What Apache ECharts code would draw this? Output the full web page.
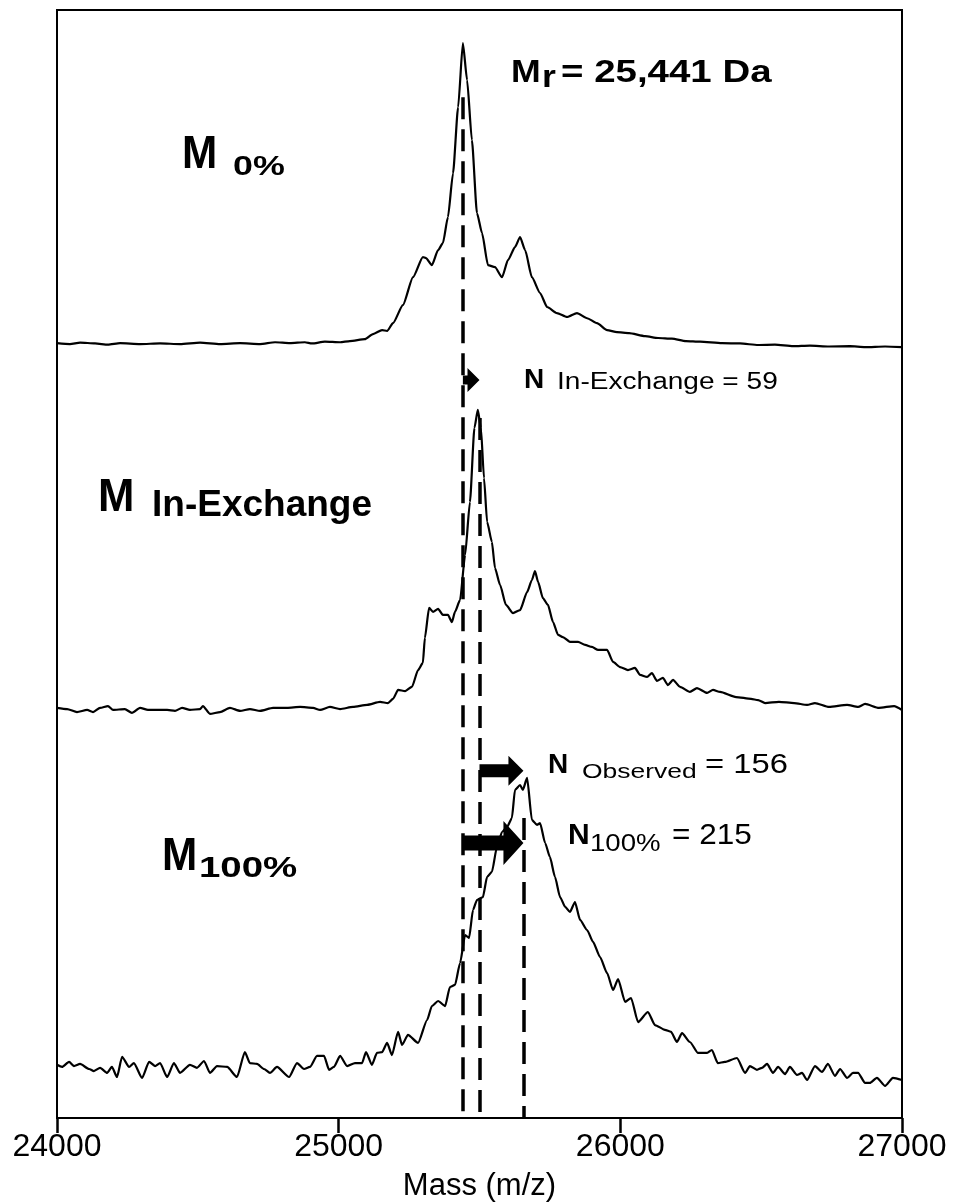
<!DOCTYPE html>
<html>
<head>
<meta charset="utf-8">
<script src="https://cdn.jsdelivr.net/npm/echarts@6/dist/echarts.min.js"></script>
<style>
  html, body { margin: 0; padding: 0; background: #fff; }
  #chart { width: 957px; height: 1203px; }
</style>
</head>
<body>
<div id="chart"></div>
<script>
// Mass axis ticks (Da)
const massTicks = [24000, 25000, 26000, 27000];

// Deconvoluted spectra: [mass (Da), relative intensity (%)]
const spectrumM0 = [
  [24000,1.3],[24046,1.0],[24082,1.5],[24135,1.2],[24181,0.8],[24224,1.3],[24295,1.0],[24366,1.2],
  [24437,1.0],[24508,1.5],[24579,1.0],[24650,1.3],[24721,1.0],[24774,1.6],[24827,1.3],[24880,1.6],
  [24905,1.2],[24951,1.8],[25005,1.6],[25040,2.0],[25093,2.6],[25122,4.3],[25154,5.6],[25172,5.3],
  [25193,7.9],[25228,13.8],[25264,23.0],[25299,29.6],[25310,29.3],[25331,27.0],[25353,31.9],[25370,34.2],
  [25388,42.8],[25406,57.2],[25424,78.9],[25441,100],[25456,87.8],[25473,68.1],[25491,44.1],[25509,37.5],
  [25530,27.0],[25555,26.3],[25580,23.0],[25601,28.6],[25626,32.9],[25644,36.2],[25662,31.9],[25686,23.0],
  [25715,17.8],[25740,13.2],[25775,11.2],[25811,9.9],[25846,11.2],[25882,9.5],[25917,7.9],[25953,5.6],
  [25988,4.9],[26031,4.6],[26088,3.6],[26134,3.0],[26183,2.8],[26233,2.0],[26283,1.8],[26361,1.3],
  [26425,1.2],[26489,0.7],[26549,0.8],[26613,0.3],[26673,0.5],[26741,0.2],[26815,0.3],[26869,0],
  [26940,0.2],[27000,0]
];

const spectrumInExchange = [
  [24000,0.7],[24036,0.3],[24071,-0.7],[24107,0],[24128,-0.7],[24153,0.7],[24181,1.3],[24199,0],
  [24241,0.3],[24266,-1.0],[24295,0.7],[24323,0],[24391,0],[24419,-0.3],[24444,0.7],[24472,0],
  [24508,0.3],[24518,1.3],[24543,-1.3],[24579,-0.7],[24614,0.7],[24650,-0.3],[24685,0.3],[24721,-0.3],
  [24767,0.7],[24817,0.7],[24863,1.0],[24909,0.7],[24934,0],[24969,1.0],[25005,0.3],[25051,1.0],
  [25101,1.7],[25147,2.7],[25175,2.3],[25193,3.7],[25211,6.7],[25236,6.3],[25260,7.7],[25282,13.3],
  [25299,15.7],[25306,24.0],[25321,34.0],[25335,32.7],[25353,33.7],[25370,31.7],[25388,31.7],[25402,29.3],
  [25413,32.7],[25431,36.7],[25449,51.7],[25466,69.3],[25482,94.0],[25494,100],[25505,94.0],[25516,77.3],
  [25527,62.7],[25544,56.0],[25555,47.3],[25573,41.7],[25594,35.0],[25619,32.3],[25644,33.3],[25669,39.3],
  [25686,43.3],[25697,46.3],[25708,42.7],[25725,37.3],[25743,35.0],[25761,29.3],[25779,25.0],[25796,24.3],
  [25821,22.7],[25850,22.7],[25875,21.7],[25899,21.0],[25921,20.0],[25953,20.0],[25974,16.0],[25999,14.3],
  [26027,13.3],[26052,14.0],[26070,11.7],[26095,11.0],[26112,12.3],[26130,9.7],[26151,10.7],[26169,8.3],
  [26187,10.0],[26212,7.7],[26247,6.0],[26272,7.3],[26308,5.7],[26329,6.7],[26354,6.0],[26411,4.3],
  [26464,3.7],[26489,3.3],[26514,2.3],[26563,2.7],[26617,2.3],[26663,1.7],[26691,2.3],[26741,1.0],
  [26805,1.7],[26844,1.0],[26869,2.0],[26918,0.7],[26972,1.3],[27000,0]
];

const spectrumM100 = [
  [24000,3.4],[24018,2.7],[24043,4.4],[24060,3.0],[24082,3.7],[24114,2.0],[24131,1.3],[24153,2.4],
  [24178,0.7],[24195,2.7],[24213,-0.7],[24231,6.1],[24256,2.7],[24273,4.0],[24302,-1.0],[24327,4.4],
  [24348,3.0],[24366,4.0],[24391,-0.7],[24415,4.0],[24437,0.7],[24472,3.4],[24497,2.4],[24522,4.7],
  [24543,0.7],[24568,3.0],[24604,2.7],[24639,-0.7],[24667,7.7],[24685,4.0],[24710,3.7],[24735,2.0],
  [24756,0.7],[24781,2.7],[24824,-0.7],[24852,4.0],[24877,2.0],[24898,2.7],[24923,6.4],[24948,6.4],
  [24966,1.7],[24983,2.7],[25005,6.4],[25030,3.0],[25058,4.0],[25083,4.0],[25097,7.7],[25118,3.4],
  [25136,7.4],[25154,7.7],[25172,10.8],[25189,6.7],[25211,14.5],[25225,10.1],[25246,13.5],[25282,10.8],
  [25314,18.5],[25331,23.2],[25353,24.9],[25378,23.2],[25395,29.6],[25413,30.3],[25431,37.7],[25449,47.1],
  [25463,46.1],[25477,55.6],[25491,58.9],[25512,59.9],[25527,66.7],[25544,68.4],[25562,76.8],[25580,81.8],
  [25598,83.5],[25615,86.5],[25626,96.0],[25644,97.6],[25654,96.0],[25669,100],[25686,85.9],[25704,84.2],
  [25715,84.8],[25733,78.1],[25750,73.4],[25768,66.7],[25786,59.9],[25804,56.6],[25821,54.9],[25839,58.2],
  [25857,52.2],[25882,48.8],[25903,44.8],[25928,39.7],[25953,34.3],[25974,28.6],[25992,32.3],[26017,24.6],
  [26038,25.9],[26063,17.8],[26098,21.2],[26123,16.8],[26158,15.2],[26180,14.5],[26201,11.1],[26219,14.1],
  [26247,11.1],[26276,7.4],[26308,7.4],[26325,8.4],[26346,4.0],[26371,4.4],[26414,5.7],[26443,0.7],
  [26460,3.0],[26485,1.7],[26503,2.4],[26521,3.7],[26542,0.7],[26560,2.7],[26585,0.3],[26602,2.7],
  [26627,0],[26645,0.7],[26663,-1.7],[26691,3.0],[26716,1.0],[26737,3.7],[26762,-0.3],[26780,2.0],
  [26805,-1.0],[26826,0.7],[26844,0.7],[26869,-2.7],[26886,-2.7],[26911,-1.0],[26940,-3.7],[26968,-1.0],
  [27000,-1.7]
];

// Mass of the unlabelled protein and deuterium uptake counts
const massMr = 25441;
const nInExchange = 59;
const nObserved = 156;
const n100 = 215;

const massInExchange = massMr + nInExchange;     // 25500
const massObserved = massInExchange + nObserved; // 25656
const mass100 = massMr + n100;                   // 25656

const FONT = '"Liberation Sans", Arial, Helvetica, sans-serif';

// Each spectrum gets its own hidden intensity axis so the three traces stack vertically
const panelAxes = [
  { min: -253.6, max: 110.9 },
  { min: -136, max: 233.3 },
  { min: -14.5, max: 358.6 }
];

function traceSeries(data, axisIndex, refMass, refTop) {
  return {
    type: 'line',
    yAxisIndex: axisIndex,
    data: data,
    showSymbol: false,
    symbol: 'none',
    silent: true,
    smooth: 0.2,
    smoothMonotone: 'x',
    lineStyle: { color: '#000', width: 2.2 },
    z: 3,
    markLine: {
      silent: true,
      symbol: ['none', 'none'],
      label: { show: false },
      lineStyle: { color: '#000', width: 3.5, type: [22, 10], cap: 'butt' },
      data: [[
        { coord: [refMass, refTop] },
        { coord: [refMass, panelAxes[axisIndex].min] }
      ]]
    }
  };
}

// Shift arrows: shaft + triangular head, tip placed at the end mass
const arrowShapes = {
  inExchange: { shaft: 9, headW: 24, headL: 12 },
  observed: { shaft: 13, headW: 30, headL: 15 },
  full: { shaft: 15, headW: 44, headL: 20 }
};

function arrowSeries(axisIndex, items) {
  return {
    type: 'custom',
    yAxisIndex: axisIndex,
    silent: true,
    clip: false,
    z: 5,
    data: items.map(it => [it.from, it.to, it.level]),
    renderItem: function (params, api) {
      const shape = items[params.dataIndex].shape;
      const p0 = api.coord([api.value(0), api.value(2)]);
      const p1 = api.coord([api.value(1), api.value(2)]);
      const t = shape.shaft / 2, hw = shape.headW / 2, bx = p1[0] - shape.headL, y = p0[1];
      return {
        type: 'polygon',
        shape: { points: [
          [p0[0], y - t], [bx, y - t], [bx, y - hw], [p1[0], y],
          [bx, y + hw], [bx, y + t], [p0[0], y + t]
        ] },
        style: { fill: '#000' }
      };
    }
  };
}

function label(text, x, y, size, weight, sx) {
  return {
    type: 'text', x: x, y: y, scaleX: sx || 1, silent: true, z: 10,
    style: {
      text: text, fill: '#000', fontFamily: FONT, fontSize: size,
      fontWeight: weight, align: 'left', verticalAlign: 'middle'
    }
  };
}

const chart = echarts.init(document.getElementById('chart'), null, { renderer: 'canvas' });

chart.setOption({
  animation: false,
  backgroundColor: '#fff',
  grid: {
    left: 57, right: 55, top: 10, bottom: 85,
    show: true, borderColor: '#000', borderWidth: 2,
    containLabel: false, outerBoundsMode: 'none'
  },
  xAxis: {
    type: 'value',
    min: massTicks[0], max: massTicks[massTicks.length - 1], interval: 1000,
    name: 'Mass (m/z)', nameLocation: 'middle', nameGap: 53,
    nameTextStyle: { color: '#000', fontSize: 31, fontFamily: FONT },
    axisLine: { show: true, onZero: false, lineStyle: { color: '#000', width: 2 } },
    axisTick: { show: true, length: 15, lineStyle: { color: '#000', width: 2.5 } },
    axisLabel: {
      color: '#000', fontSize: 32, fontFamily: FONT, margin: 13,
      showMinLabel: true, showMaxLabel: true,
      formatter: v => String(v)
    },
    splitLine: { show: false }
  },
  yAxis: panelAxes.map(a => ({
    type: 'value', min: a.min, max: a.max, show: false,
    axisLine: { onZero: false },
    splitLine: { show: false }
  })),
  series: [
    traceSeries(spectrumM0, 0, massMr, 82.2),
    traceSeries(spectrumInExchange, 1, massInExchange, 97.3),
    traceSeries(spectrumM100, 2, mass100, 86.5),
    arrowSeries(1, [
      { from: massMr, to: massInExchange, level: 110, shape: arrowShapes.inExchange }
    ]),
    arrowSeries(2, [
      { from: massInExchange, to: massObserved, level: 102.4, shape: arrowShapes.observed },
      { from: massMr, to: mass100, level: 78.1, shape: arrowShapes.full }
    ])
  ],
  graphic: [
    // Panel titles
    label('M', 182, 155, 46, 'bold', 0.92),
    label('0%', 233, 167, 28, 'bold', 1.28),
    label('M', 98, 498, 46, 'bold', 0.95),
    label('In-Exchange', 152, 506, 37, 'bold', 1.0),
    label('M', 162, 857, 46, 'bold', 0.92),
    label('100%', 199, 869, 30, 'bold', 1.28),
    // Relative molecular mass
    label('M', 511, 73, 31, 'bold', 1.15),
    label('r', 542, 78, 31, 'bold', 1.15),
    label('= 25,441 Da', 561, 73, 31, 'bold', 1.24),
    // Deuterium counts
    label('N', 524, 380, 28, 'bold', 1.0),
    label('In-Exchange = 59', 557, 383, 23, 'normal', 1.22),
    label('N', 548, 765, 28, 'bold', 1.0),
    label('Observed', 582, 772, 21, 'normal', 1.26),
    label('= 156', 705, 765, 28, 'normal', 1.17),
    label('N', 568, 836, 30, 'bold', 1.0),
    label('100%', 590, 845, 23, 'normal', 1.2),
    label('= 215', 672, 836, 30, 'normal', 1.05)
  ]
});
</script>
</body>
</html>
